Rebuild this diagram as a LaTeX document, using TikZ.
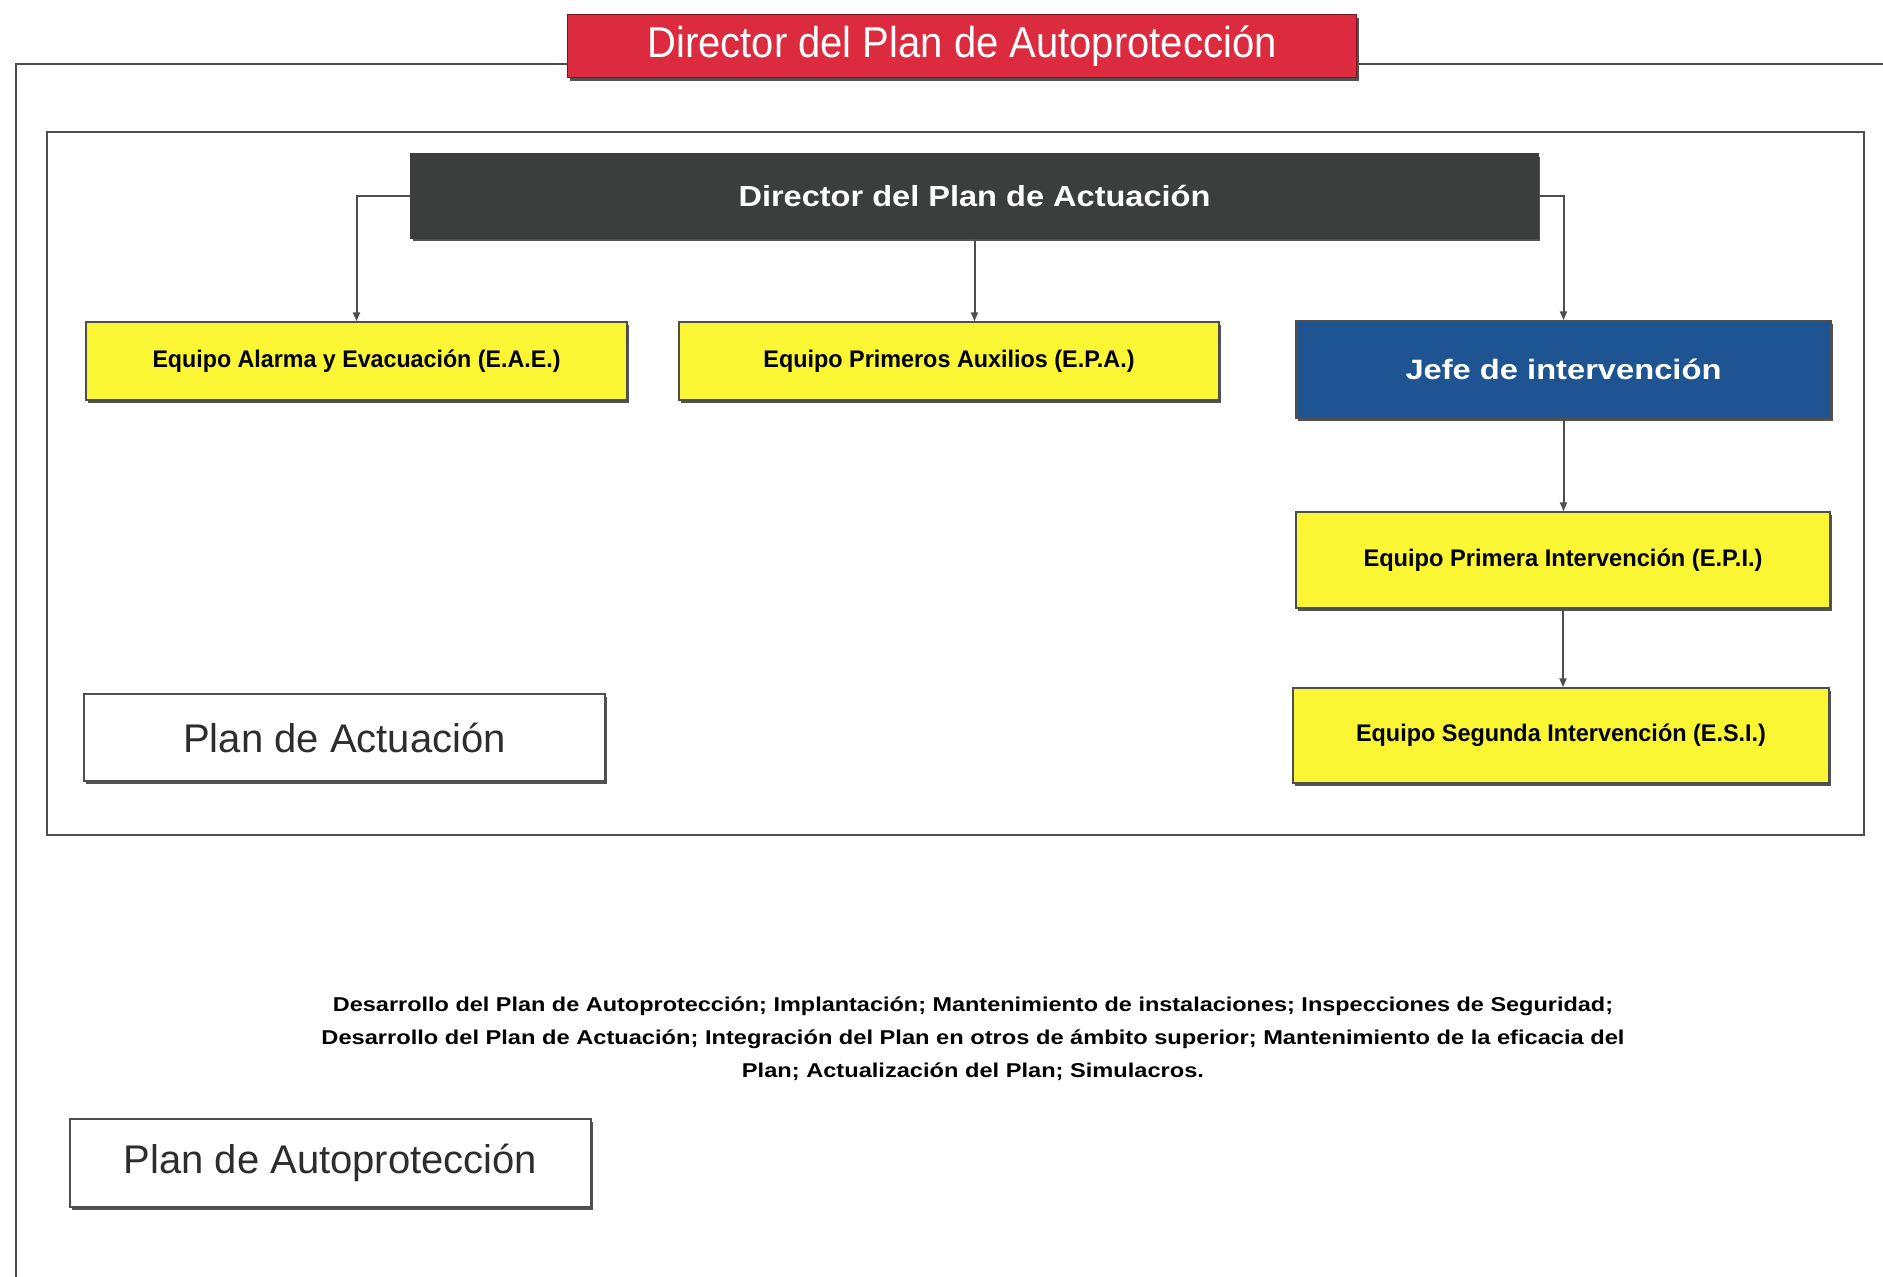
\documentclass[tikz,border=0pt]{standalone}
\usepackage{fontspec}
\setmainfont{Liberation Sans}
\usetikzlibrary{arrows.meta,shadows}
\definecolor{redbox}{RGB}{220,42,62}
\definecolor{rededge}{RGB}{120,20,30}
\definecolor{darkbox}{RGB}{60,62,61}
\definecolor{bluebox}{RGB}{30,84,146}
\definecolor{yellowbox}{RGB}{250,246,52}
\definecolor{linegray}{RGB}{78,78,78}
\definecolor{textgray}{RGB}{45,45,45}
\newcommand\fitw[2]{\resizebox{#1}{\height}{#2}}
\begin{document}
\begin{tikzpicture}[x=1pt,y=-1pt,
  basebox/.style={rectangle, inner sep=0pt, line width=1.5pt,
    drop shadow={shadow xshift=2pt, shadow yshift=-3pt, fill=black!75, opacity=0.9}},
  ybox/.style={basebox, draw=linegray, fill=yellowbox, text=black,
    font=\fontsize{24}{24}\selectfont\bfseries},
  whitebox/.style={basebox, draw=linegray, fill=white, text=textgray,
    font=\fontsize{40}{40}\selectfont},
  frame/.style={draw=linegray, line width=2.5pt},
  conn/.style={draw=linegray, line width=2pt, -{Triangle[length=9pt,width=7pt]}}
]
\fill[white] (0,0) rectangle (1883,1277);
\useasboundingbox (0,0) rectangle (1883,1277);

% outer frame parts
\coordinate (otl) at (16,64);
\coordinate (obl) at (16,1277);
\coordinate (otr) at (1883,64);
% inner frame
\draw[frame] (47,132) rectangle (1864,835);

% red title
\node[basebox, draw=rededge, fill=redbox, text=white, minimum width=789pt, minimum height=63pt,
  font=\fontsize{40}{40}\selectfont] (redt) at (962,46) {\scalebox{1}[1.08]{Director del Plan de Autoprotección}};
\draw[frame] (redt.west |- otl) -- (otl) -- (obl);
\draw[frame] (redt.east |- otr) -- (otr);

% director plan actuacion
\node[basebox, draw=darkbox, fill=darkbox, text=white, minimum width=1127pt, minimum height=84pt,
  font=\fontsize{29}{29}\selectfont\bfseries] (dark) at (974.5,196) {\fitw{472pt}{Director del Plan de Actuación}};

% teams
\node[ybox, minimum width=541pt, minimum height=78pt] (eae) at (356.5,361)
  {\fitw{408pt}{Equipo Alarma y Evacuación (E.A.E.)}};
\node[ybox, minimum width=540pt, minimum height=78pt] (epa) at (949,361)
  {\fitw{371pt}{Equipo Primeros Auxilios (E.P.A.)}};
\node[basebox, draw=linegray, fill=bluebox, text=white, minimum width=535pt, minimum height=97pt,
  font=\fontsize{28}{28}\selectfont\bfseries] (jefe) at (1563.5,369.5) {\fitw{316pt}{Jefe de intervención}};
\node[ybox, minimum width=534pt, minimum height=96pt] (epi) at (1563,560)
  {\fitw{399pt}{Equipo Primera Intervención (E.P.I.)}};
\node[ybox, minimum width=536pt, minimum height=95pt] (esi) at (1561,735.5)
  {\fitw{410pt}{Equipo Segunda Intervención (E.S.I.)}};

% plan boxes
\node[whitebox, minimum width=521pt, minimum height=87pt] (pact) at (344.5,737.5) {Plan de Actuación};
\node[whitebox, minimum width=521pt, minimum height=88pt] (pauto) at (330.5,1163) {Plan de Autoprotección};

% description
\node[align=center, inner sep=0pt, text=black, font=\fontsize{20}{33}\selectfont\bfseries] (desc) at (973,1039)
  {\fitw{1280pt}{Desarrollo del Plan de Autoprotección; Implantación; Mantenimiento de instalaciones; Inspecciones de Seguridad;}\\
   \fitw{1303pt}{Desarrollo del Plan de Actuación; Integración del Plan en otros de ámbito superior; Mantenimiento de la eficacia del}\\
   \fitw{462pt}{Plan; Actualización del Plan; Simulacros.}};

% connectors
\draw[conn] (dark.west) -| (eae.north);
\draw[conn] (dark.south) -- (dark.south |- epa.north);
\draw[conn] (dark.east) -| (jefe.north);
\draw[conn] (jefe.south) -- (jefe.south |- epi.north);
\draw[conn] (epi.south) -- (epi.south |- esi.north);
\end{tikzpicture}
\end{document}
